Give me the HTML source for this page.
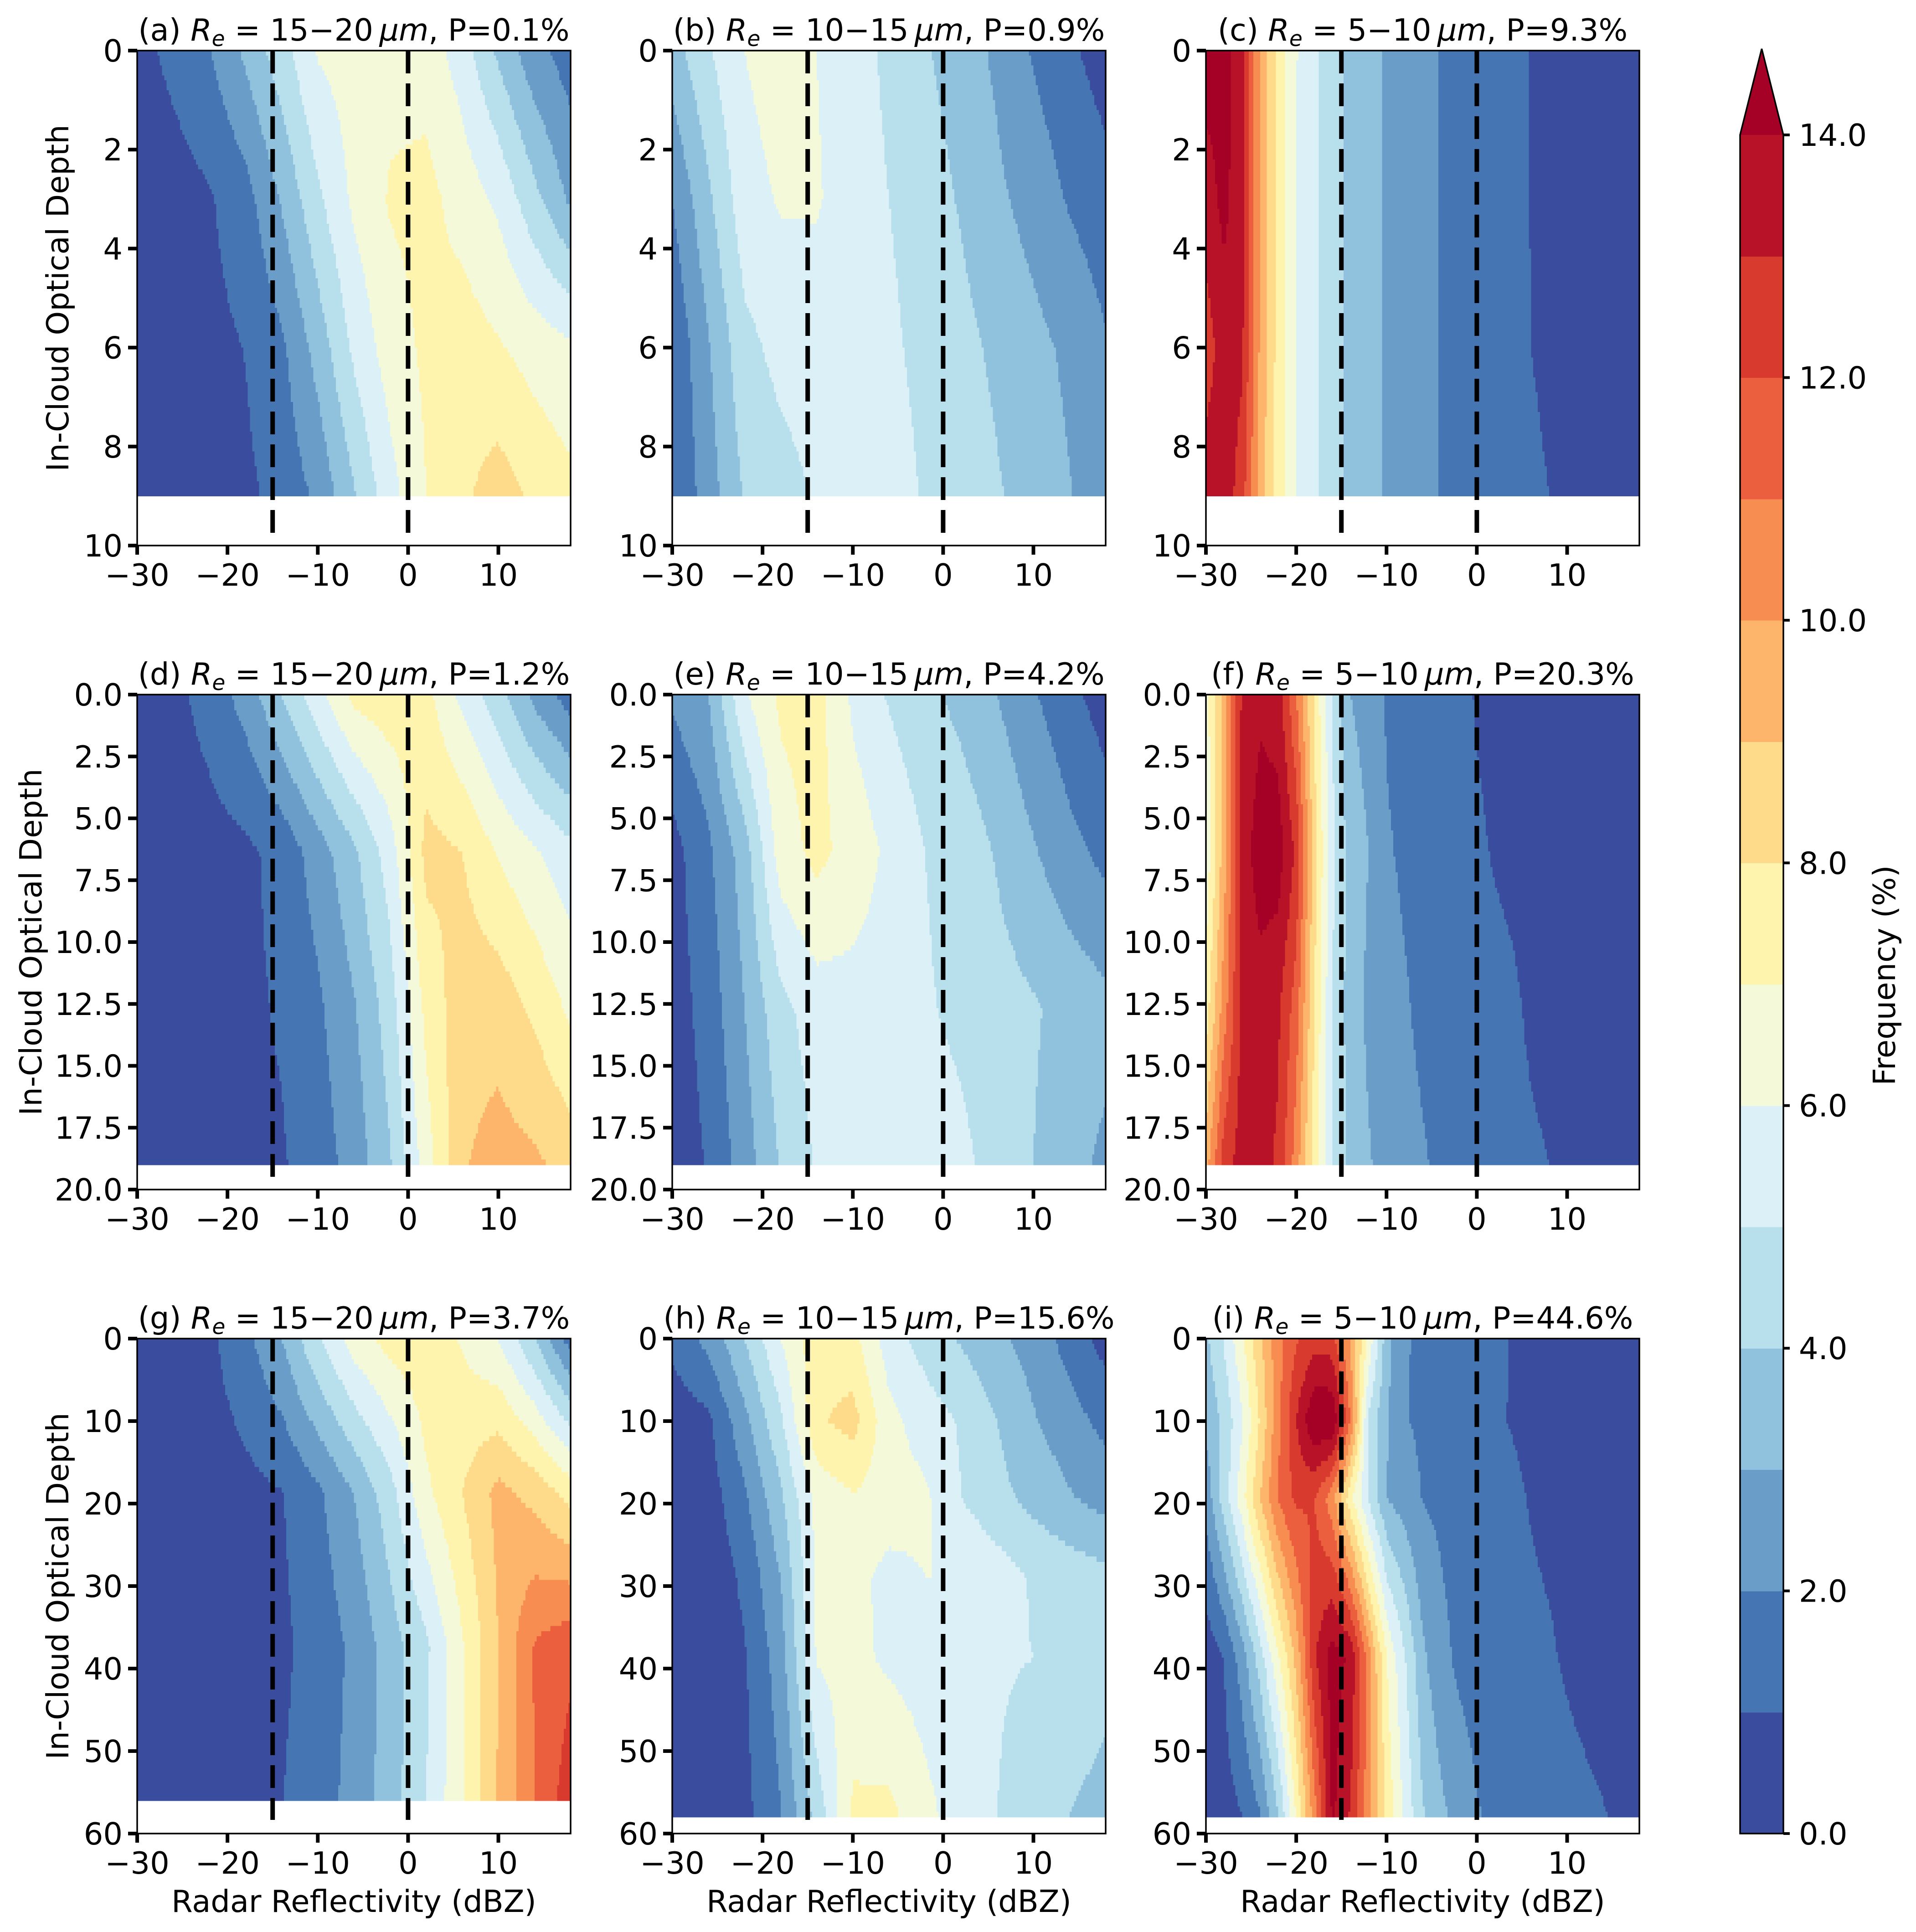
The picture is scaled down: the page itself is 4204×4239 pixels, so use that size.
<!DOCTYPE html>
<html><head><meta charset="utf-8"><style>
html,body{margin:0;padding:0;background:#fff;}
svg{display:block;font-family:"DejaVu Sans","Liberation Sans",sans-serif;}
</style></head><body>
<svg id="fig" xmlns="http://www.w3.org/2000/svg" width="4204" height="4239" viewBox="0 0 4204 4239">
<rect x="0" y="0" width="4204" height="4239" fill="#fff"/>
<g id="panels"></g>
<g id="cbar"></g>
</svg>
<script>
const levelColors = ["#3a4c9e","#4675b3","#6a9ec8","#91c2dd","#b7e0ec","#dcf1f7","#f3f9d9","#fef4ae","#fedb8b","#fdb56b","#f88d52","#ec5f3e","#d83a2d","#b71228"];
const overColor = "#a50026";
const cbarTicks = [0,2,4,6,8,10,12,14];
const cbarTickLabels = ["0.0","2.0","4.0","6.0","8.0","10.0","12.0","14.0"];

const xTicks = [-30,-20,-10,0,10];
const xTickLabels = ["\u221230","\u221220","\u221210","0","10"];
const yTicksRow1 = [0,2,4,6,8,10];
const yTickLabelsRow1 = ["0","2","4","6","8","10"];
const yTicksRow2 = [0,2.5,5,7.5,10,12.5,15,17.5,20];
const yTickLabelsRow2 = ["0.0","2.5","5.0","7.5","10.0","12.5","15.0","17.5","20.0"];
const yTicksRow3 = [0,10,20,30,40,50,60];
const yTickLabelsRow3 = ["0","10","20","30","40","50","60"];
const dashedLines = [-15,0];

const panelLetters = ["a","b","c","d","e","f","g","h","i"];
const reRanges = ["15\u221220","10\u221215","5\u221210","15\u221220","10\u221215","5\u221210","15\u221220","10\u221215","5\u221210"];
const pValues = ["0.1","0.9","9.3","1.2","4.2","20.3","3.7","15.6","44.6"];

const x4 = [-30,-26,-22,-18,-14,-10,-6,-2,2,6,10,14,18];
const x2 = [-30,-28,-26,-24,-22,-20,-18,-16,-14,-12,-10,-8,-6,-4,-2,0,2,4,6,8,10,12,14,16,18];

const a_depths = [0,3,6,9];
const a_vals = [
 [0.6,1.3,1.97,3.2,4.6,6.1,6.5,6.7,6.6,5.5,3.8,2.3,1.5],
 [0.3,0.5,0.9,1.6,3.1,4.8,6.2,7.1,7.3,6.6,5.8,4.3,2.8],
 [0.3,0.5,0.7,1.03,1.8,3.4,5.2,6.5,7.2,7.5,7.1,6.6,6.2],
 [0.2,0.4,0.6,0.8,1.3,2.2,3.9,5.6,7.0,7.8,8.5,7.8,7.3]];
const b_depths = [0,3,6,9];
const b_vals = [
 [3.5,4.9,6.0,6.5,6.0,5.4,4.8,4.1,3.5,2.8,1.9,1.2,0.5],
 [2.0,3.8,5.6,6.1,6.1,5.5,5.0,4.5,3.9,3.2,2.6,1.9,1.4],
 [1.1,2.9,4.7,5.3,5.5,5.6,5.2,4.7,4.3,3.8,3.3,2.8,2.1],
 [1.0,2.5,4.1,4.6,5.1,5.5,5.5,4.9,4.6,4.1,3.6,3.05,2.5]];
const c_depths = [0,3,6,9];
const c_vals = [
 [14.5,14.3,13.5,9.8,7.6,6.05,5.3,4.3,3.8,3.3,2.9,2.6,2.3,1.97,1.8,1.6,1.4,1.2,0.98,0.85,0.7,0.6,0.5,0.45,0.4],
 [13.5,14.3,13.3,9.8,7.6,6.0,5.3,4.3,3.8,3.3,2.9,2.6,2.3,1.97,1.8,1.6,1.4,1.2,0.98,0.85,0.7,0.6,0.5,0.45,0.4],
 [12.5,13.5,13.2,9.8,7.6,6.0,5.3,4.3,3.8,3.3,2.9,2.6,2.3,1.97,1.8,1.6,1.4,1.2,1.0,0.9,0.8,0.6,0.5,0.45,0.4],
 [13.5,13.6,12.5,9.5,7.5,6.0,5.2,4.3,3.8,3.3,2.9,2.6,2.3,1.95,1.8,1.6,1.4,1.25,1.1,1.0,0.98,0.7,0.5,0.45,0.4]];
const d_depths = [0,6.33,12.67,19];
const d_vals = [
 [0.3,0.7,1.4,2.4,4.0,5.7,7.3,7.7,7.3,5.7,4.4,2.7,1.5],
 [0.3,0.4,0.6,0.8,1.3,2.5,3.8,5.5,8.3,8.0,6.9,6.1,5.3],
 [0.2,0.4,0.6,0.8,1.1,1.8,2.9,4.5,7.3,8.6,8.6,7.8,6.8],
 [0.2,0.4,0.6,0.7,0.9,1.5,2.4,3.9,6.5,8.9,9.4,9.2,8.6]];
const e_depths = [0,6.33,12.67,19];
const e_vals = [
 [2.2,3.0,5.9,7.2,7.4,5.8,4.9,4.3,3.7,3.0,2.1,1.3,0.5],
 [0.6,1.8,3.5,6.5,7.3,6.6,5.8,5.0,4.6,3.9,3.1,2.3,1.7],
 [0.5,1.4,3.0,4.7,5.5,5.6,5.5,5.1,4.8,4.4,4.1,3.7,3.3],
 [0.3,1.1,2.5,4.1,5.1,5.5,5.6,5.5,5.2,4.7,4.0,3.3,2.8]];
const f_depths = [0,6.33,12.67,19];
const f_vals = [
 [6.5,9.5,13.2,13.8,13.5,11,7.8,5.0,3.0,2.6,1.9,1.7,1.6,1.4,1.2,0.95,0.8,0.7,0.6,0.5,0.4,0.4,0.35,0.3,0.3],
 [6.2,9.5,13.5,14.5,14.5,12.8,8.5,5.2,3.6,3.0,2.1,1.85,1.7,1.5,1.3,1.1,0.95,0.85,0.7,0.6,0.5,0.4,0.4,0.35,0.3],
 [7.5,10.5,13.3,13.6,13.2,11.5,8.0,5.0,3.5,2.8,2.4,2.1,1.8,1.6,1.5,1.3,1.2,1.1,0.9,0.8,0.6,0.5,0.45,0.4,0.4],
 [9.5,12.5,13.5,13.5,12.8,10.5,7.5,5.0,3.7,3.1,2.6,2.3,2.1,1.8,1.6,1.5,1.3,1.2,1.1,1.0,0.9,0.7,0.6,0.5,0.5]];
const g_depths = [0,18.67,37.33,56];
const g_vals = [
 [0.2,0.4,0.8,1.7,3.0,4.9,6.5,7.4,7.7,6.9,6.0,4.0,1.5],
 [0.2,0.3,0.5,0.7,0.95,1.8,3.0,4.6,6.8,8.0,9.3,8.7,7.6],
 [0.2,0.3,0.4,0.6,0.8,1.4,2.2,3.5,4.8,6.9,9.0,11.1,11.7],
 [0.2,0.3,0.5,0.7,0.97,1.6,2.3,3.5,5.0,6.9,9.1,11.0,12.6]];
const h_depths = [0,10,19.33,29,38.67,58];
const h_vals = [
 [1.3,2.3,4.0,6.0,7.6,7.3,5.5,4.6,3.9,3.2,2.6,1.6,0.6],
 [0.3,0.8,2.7,4.8,7.8,8.4,6.3,5.5,4.9,4.0,3.1,2.4,1.7],
 [0.2,0.5,1.8,3.8,6.3,6.9,6.5,6.2,5.0,4.3,3.7,3.1,2.6],
 [0.2,0.3,1.2,3.0,6.2,6.3,5.7,6.0,6.0,5.5,4.9,4.6,4.3],
 [0.2,0.3,0.9,2.5,6.1,6.3,5.8,5.5,5.3,5.1,5.0,4.7,4.4],
 [0.2,0.3,0.7,1.95,4.3,7.2,7.3,6.3,5.5,5.0,4.4,4.0,3.6]];
const i_depths = [0,10,19.33,38.67,58];
const i_vals = [
 [3.8,5.1,6.8,8.8,10.6,11.9,12.5,12.4,9.8,6.8,3.4,2.05,1.9,1.7,1.5,1.35,1.15,0.95,0.8,0.7,0.6,0.5,0.45,0.4,0.35],
 [3.3,4.2,5.9,8.1,10.7,13.0,15,15,11,4.8,3.1,2.05,1.85,1.7,1.5,1.3,1.1,0.95,0.8,0.7,0.6,0.5,0.45,0.4,0.35],
 [2.3,4.5,6.6,9.0,11.1,12.2,12.0,10.4,7.3,4.9,3.0,2.5,1.95,1.8,1.6,1.5,1.3,1.15,0.95,0.8,0.7,0.6,0.5,0.45,0.4],
 [0.4,1.0,2.5,4.5,6.8,9.3,12.8,14.5,13.8,10.5,7.0,5.1,3.2,2.3,1.8,1.65,1.5,1.35,1.2,1.1,0.9,0.7,0.55,0.45,0.4],
 [0.3,0.6,0.97,1.9,3.9,7.0,10.5,14.2,12.9,10.5,7.8,5.8,4.1,3.25,2.6,2.05,1.9,1.75,1.6,1.45,1.3,1.2,1.05,0.9,0.8]];

const panelX = [x4, x4, x2, x4, x4, x2, x4, x4, x2];
const panelDepths = [a_depths,b_depths,c_depths,d_depths,e_depths,f_depths,g_depths,h_depths,i_depths];
const panelVals = [a_vals,b_vals,c_vals,d_vals,e_vals,f_vals,g_vals,h_vals,i_vals];
const rowYmax = [10,20,60];

const NS = "http://www.w3.org/2000/svg";
const colLeft = [301,1475,2646], rowTop = [111,1524,2937];
const PW = 951, PH = 1086;
const XMIN = -30, XMAX = 18;

function mk(tag, attrs, parent){ const e=document.createElementNS(NS,tag); for(const k in attrs) e.setAttribute(k,attrs[k]); if(parent) parent.appendChild(e); return e; }
function xScale(p,v){ return p.left + (v-XMIN)/(XMAX-XMIN)*PW; }
function yScale(p,d){ return p.top + d/p.ymax*PH; }
function interp1(xs, ys, x){
  if(x<=xs[0]) return ys[0];
  for(let k=0;k<xs.length-1;k++){ if(x<=xs[k+1]){ const t=(x-xs[k])/(xs[k+1]-xs[k]); return ys[k]+(ys[k+1]-ys[k])*t; } }
  return ys[ys.length-1];
}
function valueAt(xs, depths, vals, x, d){
  let r=0; while(r<depths.length-2 && d>depths[r+1]) r++;
  const t=Math.max(0,Math.min(1,(d-depths[r])/(depths[r+1]-depths[r])));
  return interp1(xs,vals[r],x)*(1-t)+interp1(xs,vals[r+1],x)*t;
}
function colorFor(v){ if(v>=14) return overColor; const l=Math.max(0,Math.floor(v)); return levelColors[l]; }

const root = document.getElementById("panels");
for(let pi=0;pi<9;pi++){
  const row=Math.floor(pi/3), col=pi%3;
  const p={left:colLeft[col], top:rowTop[row], ymax:rowYmax[row]};
  const xs=panelX[pi], depths=panelDepths[pi], vals=panelVals[pi];
  const g=mk("g",{},root);
  
  
  const field=mk("g",{"shape-rendering":"crispEdges"},g);
  
  
  const dMax=depths[depths.length-1];
  const NY=90, NX=192;
  for(let j=0;j<NY;j++){
    const d0=dMax*j/NY, d1=dMax*(j+1)/NY, dc=(d0+d1)/2;
    const y0=yScale(p,d0), y1=yScale(p,d1);
    let runStart=0, runColor=null;
    for(let k=0;k<=NX;k++){
      let c=null;
      if(k<NX){ const xc=XMIN+(k+0.5)*(XMAX-XMIN)/NX; c=colorFor(valueAt(xs,depths,vals,xc,dc)); }
      if(c!==runColor){
        if(runColor!==null){
          const xa=xScale(p,XMIN+runStart*(XMAX-XMIN)/NX), xb=xScale(p,XMIN+k*(XMAX-XMIN)/NX);
          const r=mk("rect",{x:xa.toFixed(1),y:y0.toFixed(1),width:(xb-xa+0.8).toFixed(1),height:(y1-y0+0.8).toFixed(1),fill:runColor},field);
          
          
        }
        runColor=c; runStart=k;
      }
    }
  }
  const dashEnd = row===2 ? p.top+PH-30 : p.top+PH-10;
  dashedLines.forEach(v=>{
    const l=mk("line",{x1:xScale(p,v),x2:xScale(p,v),y1:p.top,y2:dashEnd,stroke:"#000","stroke-width":10,"stroke-dasharray":"50 22"},g);
    
    
  });
  const fr=mk("rect",{x:p.left,y:p.top,width:PW,height:PH,fill:"none",stroke:"#000","stroke-width":3.5},g);
  
  
  const xt=mk("g",{},g);
  
  
  xTicks.forEach((v,k)=>{
    const X=xScale(p,v);
    const t=mk("line",{x1:X,x2:X,y1:p.top+PH,y2:p.top+PH+20,stroke:"#000","stroke-width":8},xt);
    
    
    const tx=mk("text",{x:X,y:p.top+PH+88,"text-anchor":"middle","font-size":67,fill:"#000"},xt);
    tx.textContent=xTickLabels[k];
    
    
  });
  const yt=mk("g",{},g);
  
  
  const yTicks=[yTicksRow1,yTicksRow2,yTicksRow3][row], yLabs=[yTickLabelsRow1,yTickLabelsRow2,yTickLabelsRow3][row];
  yTicks.forEach((v,k)=>{
    const Y=yScale(p,v);
    const t=mk("line",{x1:p.left-20,x2:p.left,y1:Y,y2:Y,stroke:"#000","stroke-width":8},yt);
    
    
    const tx=mk("text",{x:p.left-32,y:Y+24,"text-anchor":"end","font-size":67,fill:"#000"},yt);
    tx.textContent=yLabs[k];
    
    
  });
  const ti=mk("text",{x:p.left+PW/2,y:p.top-22,"text-anchor":"middle","font-size":67,fill:"#000"},g);
  
  
  const s1=mk("tspan",{},ti); s1.textContent="("+panelLetters[pi]+") ";
  const s2=mk("tspan",{"font-style":"italic"},ti); s2.textContent="R";
  const s3=mk("tspan",{"font-style":"italic","font-size":47,dy:12},ti); s3.textContent="e";
  const s4=mk("tspan",{dy:-12},ti); s4.textContent=" = "+reRanges[pi]+"\u2009";
  const s5=mk("tspan",{"font-style":"italic"},ti); s5.textContent="\u03bcm";
  const s6=mk("tspan",{},ti); s6.textContent=", P="+pValues[pi]+"%";
  if(col===0){
    const yx = row===1 ? 68 : 127, yc=p.top+PH/2;
    const yl=mk("text",{x:yx,y:yc,"text-anchor":"middle","dominant-baseline":"central","font-size":67,fill:"#000",transform:"rotate(-90 "+yx+" "+yc+")"},g);
    yl.textContent="In-Cloud Optical Depth";
    
    
  }
  if(row===2){
    const xl=mk("text",{x:p.left+PW/2,y:4195,"text-anchor":"middle","font-size":67,fill:"#000"},g);
    xl.textContent="Radar Reflectivity (dBZ)";
    
    
  }
}

const cb=document.getElementById("cbar");
const CBL=3818, CBR=3913, CBT=296, CBB=4023, CBTIP=107;
function cbY(v){ return CBB-(v/14)*(CBB-CBT); }
levelColors.forEach((c,k)=>{
  const r=mk("rect",{x:CBL,y:cbY(k+1),width:CBR-CBL,height:cbY(k)-cbY(k+1)+0.8,fill:c,"shape-rendering":"crispEdges"},cb);
  
  
});
const tri=mk("polygon",{points:CBL+","+CBT+" "+CBR+","+CBT+" "+((CBL+CBR)/2)+","+CBTIP,fill:overColor},cb);


const outl=mk("path",{d:"M"+CBL+" "+CBB+" L"+CBL+" "+CBT+" L"+((CBL+CBR)/2)+" "+CBTIP+" L"+CBR+" "+CBT+" L"+CBR+" "+CBB+" Z",fill:"none",stroke:"#000","stroke-width":3.5},cb);


cbarTicks.forEach((v,k)=>{
  const Y=cbY(v);
  const t=mk("line",{x1:CBR,x2:CBR+14,y1:Y,y2:Y,stroke:"#000","stroke-width":6},cb);
  
  
  const tx=mk("text",{x:3947,y:Y+24,"font-size":67,fill:"#000"},cb);
  tx.textContent=cbarTickLabels[k];
  
  
});
const cbl=mk("text",{x:4135,y:2140,"text-anchor":"middle","dominant-baseline":"central","font-size":67,fill:"#000",transform:"rotate(-90 4135 2140)"},cb);
cbl.textContent="Frequency (%)";


</script>
</body></html>
